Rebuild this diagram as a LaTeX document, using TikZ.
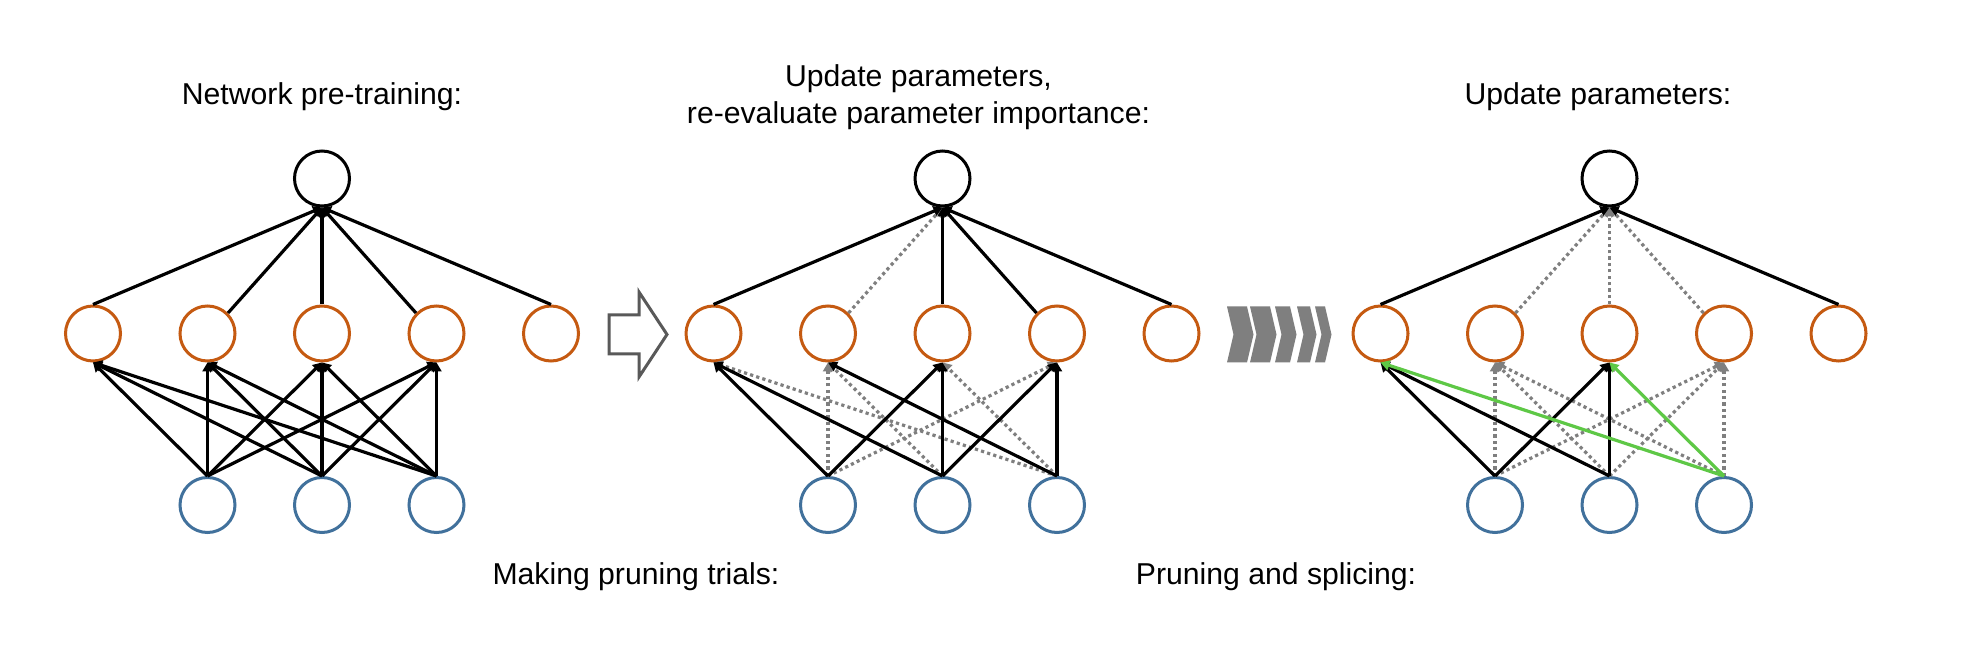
\documentclass[tikz,border=0pt]{standalone}
\usepackage{fontspec}
\setmainfont{Liberation Sans}
\usetikzlibrary{arrows.meta}
\definecolor{hidorange}{HTML}{C55A11}
\definecolor{inblue}{HTML}{41719C}
\definecolor{prunegray}{HTML}{7F7F7F}
\definecolor{splicegreen}{HTML}{5EC846}
\definecolor{stepgray}{HTML}{595959}
\begin{document}
\begin{tikzpicture}[>={Triangle[length=4.5bp,width=5bp]},line join=miter,
  unit/.style={circle,line width=1.5bp,minimum size=27.5bp,inner sep=0pt,fill=white},
  outunit/.style={unit,draw=black},
  hidunit/.style={unit,draw=hidorange},
  inunit/.style={unit,draw=inblue},
  keep/.style={->,line width=1.6bp,draw=black},
  pruned/.style={->,line width=1.6bp,draw=prunegray,dash pattern=on 1.6bp off 1.6bp},
  spliced/.style={->,line width=1.6bp,draw=splicegreen},
  caption/.style={anchor=base,inner sep=0pt,align=center,font=\fontsize{15.15pt}{18.5bp}\selectfont}]
  \path[use as bounding box,fill=white] (0bp,0bp) rectangle (986bp,328bp);
%%
  % Node: captions
  \node[caption] (capPretrain) at (161bp,275.5bp) {Network pre-training:};
  \node[caption] (capUpdateEval) at (459.25bp,266.35bp) {Update parameters,\\re-evaluate parameter importance:};
  \node[caption] (capUpdate) at (799bp,275.5bp) {Update parameters:};
  \node[caption] (capTrials) at (318bp,36bp) {Making pruning trials:};
  \node[caption] (capSplice) at (638bp,36bp) {Pruning and splicing:};
  % Node: network A
  \node[outunit] (outA) at (161bp,238.75bp) {};
  \node[hidunit] (hidA1) at (46.5bp,161.25bp) {};
  \node[hidunit] (hidA2) at (103.75bp,161.25bp) {};
  \node[hidunit] (hidA3) at (161bp,161.25bp) {};
  \node[hidunit] (hidA4) at (218.25bp,161.25bp) {};
  \node[hidunit] (hidA5) at (275.5bp,161.25bp) {};
  \node[inunit] (inA1) at (103.75bp,75.5bp) {};
  \node[inunit] (inA2) at (161bp,75.5bp) {};
  \node[inunit] (inA3) at (218.25bp,75.5bp) {};
  % Node: network B
  \node[outunit] (outB) at (471.25bp,238.75bp) {};
  \node[hidunit] (hidB1) at (356.75bp,161.25bp) {};
  \node[hidunit] (hidB2) at (414bp,161.25bp) {};
  \node[hidunit] (hidB3) at (471.25bp,161.25bp) {};
  \node[hidunit] (hidB4) at (528.5bp,161.25bp) {};
  \node[hidunit] (hidB5) at (585.75bp,161.25bp) {};
  \node[inunit] (inB1) at (414bp,75.5bp) {};
  \node[inunit] (inB2) at (471.25bp,75.5bp) {};
  \node[inunit] (inB3) at (528.5bp,75.5bp) {};
  % Node: network C
  \node[outunit] (outC) at (804.75bp,238.75bp) {};
  \node[hidunit] (hidC1) at (690.25bp,161.25bp) {};
  \node[hidunit] (hidC2) at (747.5bp,161.25bp) {};
  \node[hidunit] (hidC3) at (804.75bp,161.25bp) {};
  \node[hidunit] (hidC4) at (862bp,161.25bp) {};
  \node[hidunit] (hidC5) at (919.25bp,161.25bp) {};
  \node[inunit] (inC1) at (747.5bp,75.5bp) {};
  \node[inunit] (inC2) at (804.75bp,75.5bp) {};
  \node[inunit] (inC3) at (862bp,75.5bp) {};
%%
  % Edge: network A, hidden -> output
  \draw[keep] (hidA1.north) -- (outA.south);
  \draw[keep] (hidA2.45) -- (outA.south);
  \draw[keep] (hidA3.north) -- (outA.south);
  \draw[keep] (hidA4.135) -- (outA.south);
  \draw[keep] (hidA5.north) -- (outA.south);
  % Edge: network A, input -> hidden
  \draw[keep] (inA1.north) -- (hidA1.south);
  \draw[keep] (inA1.north) -- (hidA2.south);
  \draw[keep] (inA1.north) -- (hidA3.south);
  \draw[keep] (inA1.north) -- (hidA4.south);
  \draw[keep] (inA2.north) -- (hidA1.south);
  \draw[keep] (inA2.north) -- (hidA2.south);
  \draw[keep] (inA2.north) -- (hidA3.south);
  \draw[keep] (inA2.north) -- (hidA4.south);
  \draw[keep] (inA3.north) -- (hidA1.south);
  \draw[keep] (inA3.north) -- (hidA2.south);
  \draw[keep] (inA3.north) -- (hidA3.south);
  \draw[keep] (inA3.north) -- (hidA4.south);
  % Edge: network B, trial-pruned
  \draw[pruned] (hidB2.45) -- (outB.south);
  \draw[pruned] (inB1.north) -- (hidB2.south);
  \draw[pruned] (inB1.north) -- (hidB4.south);
  \draw[pruned] (inB2.north) -- (hidB2.south);
  \draw[pruned] (inB3.north) -- (hidB1.south);
  \draw[pruned] (inB3.north) -- (hidB3.south);
  % Edge: network B, kept
  \draw[keep] (hidB1.north) -- (outB.south);
  \draw[keep] (hidB3.north) -- (outB.south);
  \draw[keep] (hidB4.135) -- (outB.south);
  \draw[keep] (hidB5.north) -- (outB.south);
  \draw[keep] (inB1.north) -- (hidB1.south);
  \draw[keep] (inB1.north) -- (hidB3.south);
  \draw[keep] (inB2.north) -- (hidB1.south);
  \draw[keep] (inB2.north) -- (hidB3.south);
  \draw[keep] (inB2.north) -- (hidB4.south);
  \draw[keep] (inB3.north) -- (hidB2.south);
  \draw[keep] (inB3.north) -- (hidB4.south);
  % Edge: network C, pruned
  \draw[pruned] (hidC2.45) -- (outC.south);
  \draw[pruned] (hidC3.north) -- (outC.south);
  \draw[pruned] (hidC4.135) -- (outC.south);
  \draw[pruned] (inC1.north) -- (hidC2.south);
  \draw[pruned] (inC1.north) -- (hidC4.south);
  \draw[pruned] (inC2.north) -- (hidC2.south);
  \draw[pruned] (inC2.north) -- (hidC4.south);
  \draw[pruned] (inC3.north) -- (hidC2.south);
  \draw[pruned] (inC3.north) -- (hidC4.south);
  % Edge: network C, kept
  \draw[keep] (hidC1.north) -- (outC.south);
  \draw[keep] (hidC5.north) -- (outC.south);
  \draw[keep] (inC1.north) -- (hidC1.south);
  \draw[keep] (inC1.north) -- (hidC3.south);
  \draw[keep] (inC2.north) -- (hidC1.south);
  \draw[keep] (inC2.north) -- (hidC3.south);
  % Edge: network C, spliced
  \draw[spliced] (inC3.north) -- (hidC1.south);
  \draw[spliced] (inC3.north) -- (hidC3.south);
%%
  % Shape: outline arrow A -> B
  \draw[line width=1.5bp,draw=stepgray,fill=white] (304.5bp,170.5bp) -- (319.5bp,170.5bp) -- (319.5bp,182bp) -- (333.5bp,160.75bp) -- (319.5bp,139.5bp) -- (319.5bp,151bp) -- (304.5bp,151bp) -- cycle;
  % Shape: chevrons B -> C
  \fill[prunegray] (613.5bp,174.75bp) -- (623.5bp,174.75bp) -- (626.75bp,160.75bp) -- (623.5bp,146.75bp) -- (613.5bp,146.75bp) -- (616.75bp,160.75bp) -- cycle;
  \fill[prunegray] (625bp,174.75bp) -- (635bp,174.75bp) -- (638.25bp,160.75bp) -- (635bp,146.75bp) -- (625bp,146.75bp) -- (628.25bp,160.75bp) -- cycle;
  \fill[prunegray] (637.5bp,174.75bp) -- (645bp,174.75bp) -- (648.25bp,160.75bp) -- (645bp,146.75bp) -- (637.5bp,146.75bp) -- (640.75bp,160.75bp) -- cycle;
  \fill[prunegray] (648.5bp,174.75bp) -- (655bp,174.75bp) -- (658.25bp,160.75bp) -- (655bp,146.75bp) -- (648.5bp,146.75bp) -- (651.75bp,160.75bp) -- cycle;
  \fill[prunegray] (657.5bp,174.75bp) -- (662.5bp,174.75bp) -- (665.75bp,160.75bp) -- (662.5bp,146.75bp) -- (657.5bp,146.75bp) -- (660.75bp,160.75bp) -- cycle;
%
\end{tikzpicture}
\end{document}
